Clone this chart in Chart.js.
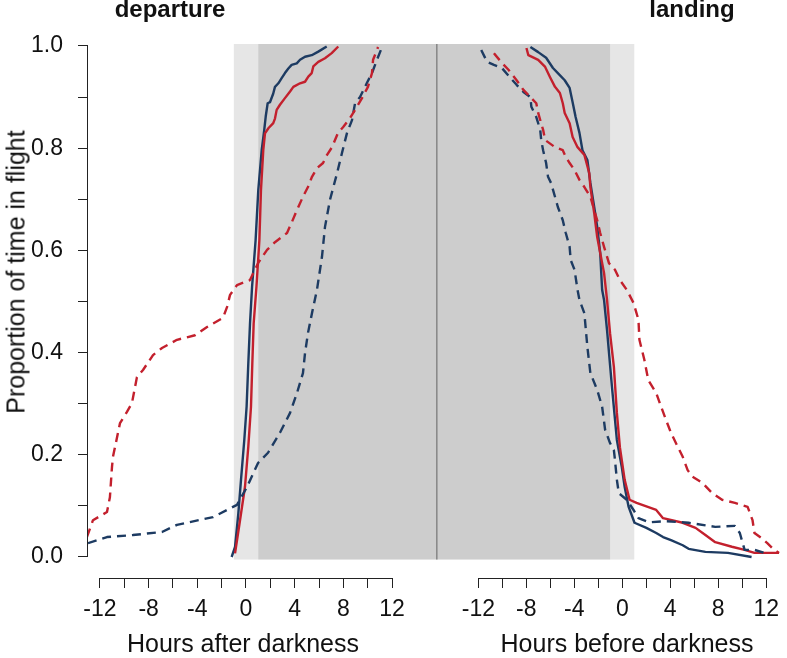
<!DOCTYPE html>
<html>
<head>
<meta charset="utf-8">
<script src="https://cdn.jsdelivr.net/npm/chart.js@4.4.1/dist/chart.umd.min.js"></script>
<style>
html,body{margin:0;padding:0;background:#ffffff;}
#wrap{position:relative;width:787px;height:658px;overflow:hidden;background:#fff;}
#cL{position:absolute;left:0;top:0;}
#cR{position:absolute;left:436px;top:0;}
.t{position:absolute;font-family:"Liberation Sans",Arial,Helvetica,sans-serif;color:#111;white-space:nowrap;line-height:1;}
</style>
</head>
<body>
<div id="wrap">
  <canvas id="cL" width="436" height="658"></canvas>
  <canvas id="cR" width="351" height="658"></canvas>
  <div class="t" id="tDep" style="font-weight:bold;font-size:24px;left:170px;top:-3px;transform:translateX(-50%);">departure</div>
  <div class="t" id="tLand" style="font-weight:bold;font-size:24px;left:692px;top:-3px;transform:translateX(-50%);">landing</div>
  <div class="t" id="xTitleL" style="font-size:25px;left:243px;top:631px;transform:translateX(-50%);">Hours after darkness</div>
  <div class="t" id="xTitleR" style="font-size:25px;left:627px;top:631px;transform:translateX(-50%);">Hours before darkness</div>
  <div class="t" id="yTitle" style="font-size:25px;left:16px;top:272px;transform:translate(-50%,-50%) rotate(-90deg);">Proportion of time in flight</div>
</div>
<script>
// ---------------- DATA ----------------
const xTickValues = [-12,-10,-8,-6,-4,-2,0,2,4,6,8,10,12];
const yTickValues = [0,0.1,0.2,0.3,0.4,0.5,0.6,0.7,0.8,0.9,1.0];
const twilight = [-1, 1];

// departure panel (hours after darkness, proportion of time in flight)
const depBlueSolidH = [-1.18,-0.90,-0.63,-0.41,-0.14,0.05,0.19,0.33,0.50,0.79,1.01,1.29,1.50,1.62,1.78,1.97,2.24,2.38,2.66,2.93,3.20,3.48,3.75,4.17,4.44,4.85,5.40,5.94,6.63];
const depBlueSolidP = [0.0,0.020,0.085,0.151,0.229,0.294,0.379,0.457,0.529,0.620,0.718,0.796,0.836,0.862,0.888,0.890,0.907,0.920,0.927,0.937,0.947,0.956,0.963,0.966,0.973,0.979,0.982,0.989,0.999];

const depRedSolidH = [-0.90,-0.49,-0.08,0.19,0.41,0.52,0.63,0.86,1.10,1.23,1.42,1.56,1.84,2.24,2.38,2.52,2.79,3.20,3.62,3.89,4.44,4.85,5.12,5.40,5.53,5.94,6.49,7.04,7.58];
const depRedSolidP = [0.007,0.072,0.138,0.216,0.294,0.379,0.457,0.529,0.620,0.718,0.796,0.829,0.839,0.849,0.858,0.875,0.885,0.898,0.911,0.920,0.927,0.930,0.940,0.947,0.960,0.969,0.976,0.986,0.999];

const depRedDashH = [-13.07,-12.57,-11.42,-11.18,-11.01,-10.93,-10.35,-9.78,-9.37,-8.96,-8.46,-7.64,-6.90,-5.67,-4.19,-3.20,-1.89,-1.56,-1.31,-0.74,0.33,0.99,1.73,2.38,3.37,3.78,4.19,4.68,5.09,5.42,5.83,6.33,6.66,7.07,7.56,7.97,8.55,8.96,9.53,10.02,10.35,10.44,10.76,10.85];
const depRedDashP = [0.039,0.072,0.088,0.117,0.176,0.196,0.262,0.284,0.301,0.352,0.366,0.395,0.409,0.425,0.434,0.450,0.468,0.489,0.513,0.532,0.542,0.575,0.601,0.616,0.634,0.656,0.679,0.705,0.724,0.744,0.761,0.771,0.787,0.802,0.830,0.841,0.859,0.875,0.898,0.920,0.947,0.973,0.992,0.998];

const depBlueDashH = [-12.98,-11.42,-9.29,-6.90,-5.67,-2.71,-1.56,-0.74,0.08,0.99,1.81,2.79,3.62,4.19,4.68,4.85,5.09,5.42,5.83,6.24,6.49,6.90,7.48,7.89,8.30,8.71,8.96,9.37,9.94,10.35,10.76,11.18];
const depBlueDashP = [0.027,0.039,0.043,0.049,0.063,0.078,0.092,0.102,0.137,0.184,0.204,0.243,0.282,0.321,0.360,0.399,0.438,0.477,0.523,0.587,0.646,0.699,0.751,0.791,0.830,0.855,0.888,0.900,0.928,0.947,0.973,0.998];

// landing panel (hours before darkness, proportion of time in flight)
const landBlueSolidH = [-7.66,-7.01,-6.35,-5.78,-5.37,-4.80,-4.39,-4.14,-3.89,-3.57,-3.32,-2.91,-2.66,-2.34,-2.09,-1.84,-1.68,-1.52,-1.27,-0.86,-0.45,-0.04,0.20,0.53,1.02,2.01,2.83,3.40,4.06,5.04,5.53,6.93,8.81,10.78];
const landBlueSolidP = [0.998,0.988,0.977,0.957,0.947,0.933,0.918,0.890,0.861,0.830,0.796,0.777,0.732,0.685,0.646,0.595,0.523,0.503,0.444,0.333,0.229,0.176,0.137,0.098,0.067,0.057,0.047,0.039,0.033,0.023,0.016,0.010,0.008,0.000];

const landRedSolidH = [-7.99,-7.83,-7.01,-6.43,-6.02,-5.61,-5.20,-4.96,-4.80,-4.39,-4.14,-3.73,-3.16,-2.75,-2.66,-2.34,-2.09,-1.84,-1.52,-1.27,-1.02,-0.70,-0.45,-0.20,0.20,0.61,1.19,2.83,3.40,5.04,6.11,6.93,7.75,9.14,10.20,11.02,13.07];
const landRedSolidP = [0.996,0.982,0.973,0.959,0.939,0.920,0.908,0.888,0.869,0.849,0.822,0.802,0.787,0.751,0.724,0.673,0.626,0.595,0.556,0.503,0.438,0.372,0.282,0.215,0.151,0.112,0.106,0.092,0.076,0.067,0.057,0.043,0.029,0.020,0.014,0.008,0.008];

const landRedDashH = [-10.70,-10.04,-9.47,-8.81,-8.24,-7.66,-7.17,-7.01,-6.84,-6.60,-6.43,-5.61,-4.96,-4.71,-4.39,-3.98,-3.57,-3.16,-2.66,-2.34,-2.09,-1.84,-1.52,-1.11,-0.61,-0.20,0.37,0.94,1.35,1.43,1.84,2.17,2.83,3.24,3.65,4.06,4.47,5.04,5.45,5.86,6.68,7.50,8.32,9.39,10.45,10.86,11.02,11.60,12.09,12.66,13.07];
const landRedDashP = [0.986,0.967,0.953,0.933,0.914,0.900,0.888,0.869,0.855,0.836,0.816,0.802,0.796,0.783,0.771,0.757,0.738,0.724,0.705,0.679,0.659,0.634,0.607,0.575,0.562,0.542,0.523,0.497,0.464,0.425,0.386,0.346,0.321,0.294,0.268,0.243,0.223,0.196,0.170,0.157,0.145,0.125,0.112,0.106,0.098,0.072,0.047,0.037,0.027,0.014,0.008];

const landBlueDashH = [-11.76,-11.27,-10.70,-10.04,-9.30,-8.81,-8.24,-7.66,-7.58,-7.17,-6.84,-6.76,-6.60,-6.35,-6.19,-5.94,-5.61,-5.37,-4.96,-4.71,-4.39,-4.30,-3.98,-3.73,-3.57,-3.16,-2.91,-2.66,-2.09,-1.68,-1.43,-1.02,-0.70,-0.61,-0.45,-0.29,0.37,0.94,1.35,2.25,3.65,5.53,7.75,9.39,9.80,10.04,10.20,11.02,11.84];
const landBlueDashP = [0.992,0.969,0.963,0.957,0.937,0.924,0.910,0.900,0.881,0.861,0.836,0.816,0.796,0.771,0.744,0.732,0.705,0.685,0.659,0.634,0.607,0.581,0.562,0.523,0.503,0.477,0.411,0.360,0.327,0.294,0.249,0.223,0.209,0.190,0.151,0.125,0.112,0.092,0.076,0.068,0.070,0.067,0.059,0.061,0.047,0.027,0.014,0.014,0.008];

// ---------------- STYLE ----------------
const RED = '#c3202d';
const BLUE = '#1d3b62';
const FONT = '"Liberation Sans", Arial, Helvetica, sans-serif';
const LIGHT_GRAY = '#e6e6e6';
const DARK_GRAY = '#cdcdcd';
const Y_MIN = -0.0411, Y_MAX = 1.0039;      // plot extent (axis drawn below region)
const REGION_BOTTOM = -0.005, REGION_TOP = 1.0039;

function pts(h, p){ return h.map((v,i)=>({x:v, y:p[i]})); }
function ds(h, p, color, dashed){
  return {data: pts(h,p), borderColor: color, borderWidth: 2.4, borderDash: dashed ? [9,6] : [],
          pointRadius: 0, tension: 0, fill: false, borderJoinStyle:'round', borderCapStyle:'butt'};
}

const shadePlugin = {
  id: 'shade',
  beforeDatasetsDraw(chart, args, o){
    const {ctx, chartArea: ca, scales: {x, y}} = chart;
    const top = y.getPixelForValue(REGION_TOP), bot = y.getPixelForValue(REGION_BOTTOM);
    ctx.save();
    ctx.beginPath(); ctx.rect(ca.left, ca.top, ca.right-ca.left, ca.bottom-ca.top); ctx.clip();
    const lx0 = x.getPixelForValue(twilight[0]), lx1 = x.getPixelForValue(twilight[1]);
    ctx.fillStyle = LIGHT_GRAY;
    ctx.fillRect(lx0, top, lx1-lx0, bot-top);
    ctx.fillStyle = DARK_GRAY;
    if (o.side === 'left') ctx.fillRect(lx1, top, ca.right-lx1, bot-top);
    else ctx.fillRect(ca.left, top, lx0-ca.left, bot-top);
    if (o.side === 'right'){
      ctx.strokeStyle = '#8a8a8a'; ctx.lineWidth = 1.6;
      ctx.beginPath(); ctx.moveTo(ca.left+0.8, top); ctx.lineTo(ca.left+0.8, bot); ctx.stroke();
    }
    ctx.restore();
  },
  afterDraw(chart, args, o){
    const {ctx, chartArea: ca, scales: {x, y}} = chart;
    ctx.save();
    ctx.strokeStyle = '#222'; ctx.lineWidth = 1;
    const yy = Math.round(ca.bottom) + 0.5;
    ctx.beginPath();
    ctx.moveTo(x.getPixelForValue(xTickValues[0]), yy);
    ctx.lineTo(x.getPixelForValue(xTickValues[xTickValues.length-1]), yy);
    ctx.stroke();
    if (o.side === 'left'){
      const xx = Math.round(ca.left) - 0.5;
      ctx.beginPath();
      ctx.moveTo(xx, y.getPixelForValue(yTickValues[0]));
      ctx.lineTo(xx, y.getPixelForValue(yTickValues[yTickValues.length-1]));
      ctx.stroke();
    }
    ctx.restore();
  }
};

function xScale(min, max){
  return {
    type: 'linear', position: 'bottom', min: min, max: max,
    afterBuildTicks: s => { s.ticks = xTickValues.map(v => ({value: v})); },
    afterFit: s => { s.height = 80; },
    grid: {display: true, drawOnChartArea: false, drawTicks: true, tickLength: 10, color: '#222', lineWidth: 1},
    border: {display: false},
    ticks: {autoSkip: false, maxRotation: 0, minRotation: 0, padding: 8, color: '#111',
            font: {family: FONT, size: 23},
            callback: v => (Math.round(v) % 4 === 0 ? String(v) : '')}
  };
}

const commonOpts = (side, xmin, xmax) => ({
  responsive: false, animation: false, maintainAspectRatio: false,
  layout: {padding: {top: 44, right: 0, bottom: 0, left: 0}},
  plugins: {legend: {display: false}, tooltip: {enabled: false}, title: {display: false}, shade: {side: side}},
  scales: {
    x: xScale(xmin, xmax),
    y: side === 'left' ? {
      type: 'linear', min: Y_MIN, max: Y_MAX,
      afterBuildTicks: s => { s.ticks = yTickValues.map(v => ({value: v})); },
      afterFit: s => { s.width = 88; },
      grid: {display: true, drawOnChartArea: false, drawTicks: true, tickLength: 10, color: '#222', lineWidth: 1},
      border: {display: false},
      ticks: {autoSkip: false, padding: 15, color: '#111', font: {family: FONT, size: 23},
              callback: v => (Math.round(v*10) % 2 === 0 ? v.toFixed(1) : '')}
    } : {type: 'linear', min: Y_MIN, max: Y_MAX, display: false}
  }
});

new Chart(document.getElementById('cL'), {
  type: 'line',
  data: {datasets: [
    ds(depRedDashH, depRedDashP, RED, true),
    ds(depBlueDashH, depBlueDashP, BLUE, true),
    ds(depRedSolidH, depRedSolidP, RED, false),
    ds(depBlueSolidH, depBlueSolidP, BLUE, false)
  ]},
  options: commonOpts('left', -12.98, 15.61),
  plugins: [shadePlugin]
});

new Chart(document.getElementById('cR'), {
  type: 'line',
  data: {datasets: [
    ds(landRedDashH, landRedDashP, RED, true),
    ds(landBlueDashH, landBlueDashP, BLUE, true),
    ds(landRedSolidH, landRedSolidP, RED, false),
    ds(landBlueSolidH, landBlueSolidP, BLUE, false)
  ]},
  options: commonOpts('right', -15.53, 13.24),
  plugins: [shadePlugin]
});
</script>
</body>
</html>
